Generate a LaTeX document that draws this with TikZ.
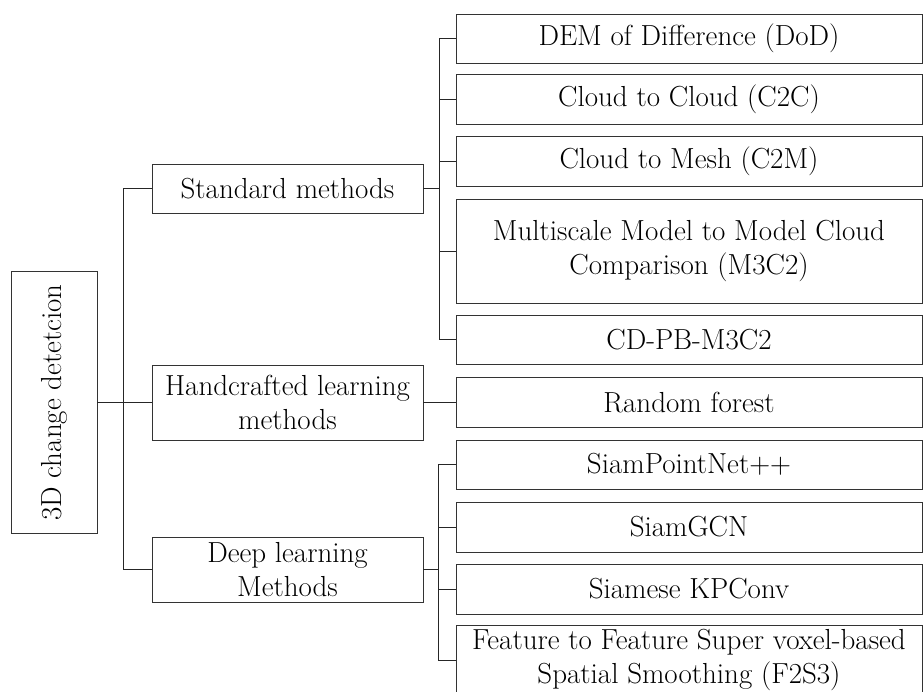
\documentclass[tikz,border=0pt]{standalone}
\usepackage{graphicx}
\usetikzlibrary{positioning,calc}

\begin{document}
\begin{tikzpicture}[
  x=1pt, y=-1pt,
  box/.style={draw=black!80, line width=0.9pt, align=center, inner sep=2pt,
              font=\fontsize{29}{34}\selectfont},
  catbox/.style={box, minimum width=271pt},
  leafbox/.style={box, minimum width=466pt},
  link/.style={draw=black!85, line width=0.9pt},
]
\useasboundingbox (0,0) rectangle (924,692);

% ====== Root ======
\node[box, minimum width=86pt, minimum height=262pt] (root) at (54,402.5)
  {\rotatebox{90}{3D change detetcion}};

% ====== Categories ======
\node[catbox, minimum height=49pt] (std)  at (287.5,188.5) {Standard methods};
\node[catbox, minimum height=75pt] (hand) at (287.5,402.5) {Handcrafted learning\\methods};
\node[catbox, minimum height=65pt] (deep) at (287.5,569.5) {Deep learning\\Methods};

% ====== Methods ======
\node[leafbox, minimum height=49pt]  (dod)  at (689,38.5)  {DEM of Difference (DoD)};
\node[leafbox, minimum height=50pt]  (ctc)  at (689,99)    {Cloud to Cloud (C2C)};
\node[leafbox, minimum height=50pt]  (ctm)  at (689,161)   {Cloud to Mesh (C2M)};
\node[leafbox, minimum height=104pt] (mcc)  at (689,251)   {Multiscale Model to Model Cloud\\Comparison (M3C2)};
\node[leafbox, minimum height=49pt]  (cdpb) at (689,339.5) {CD-PB-M3C2};
\node[leafbox, minimum height=50pt]  (rf)   at (689,402.5) {Random forest};
\node[leafbox, minimum height=49pt]  (spn)  at (689,464.5) {SiamPointNet++};
\node[leafbox, minimum height=50pt]  (gcn)  at (689,527)   {SiamGCN};
\node[leafbox, minimum height=50pt]  (kpc)  at (689,589)   {Siamese KPConv};
\node[leafbox, minimum height=70pt]  (fss)  at (689,660)   {Feature to Feature Super voxel-based\\Spatial Smoothing (F2S3)};

% ====== Connectors ======
\draw[link] (root.east) -- (hand.west);
\draw[link] (std.west) -- ++(-28,0) |- (deep.west);

\draw[link] (std.east) -- ++(17,0);
\draw[link] (dod.west) -- ++(-16,0) |- (cdpb.west);
\foreach \n in {ctc,ctm,mcc}
  \draw[link] (\n.west) -- ++(-16,0);

\draw[link] (hand.east) -- (rf.west);

\draw[link] (deep.east) -- ++(16,0);
\draw[link] (spn.west) -- ++(-17,0) |- (fss.west);
\foreach \n in {gcn,kpc}
  \draw[link] (\n.west) -- ++(-17,0);

\end{tikzpicture}
\end{document}
